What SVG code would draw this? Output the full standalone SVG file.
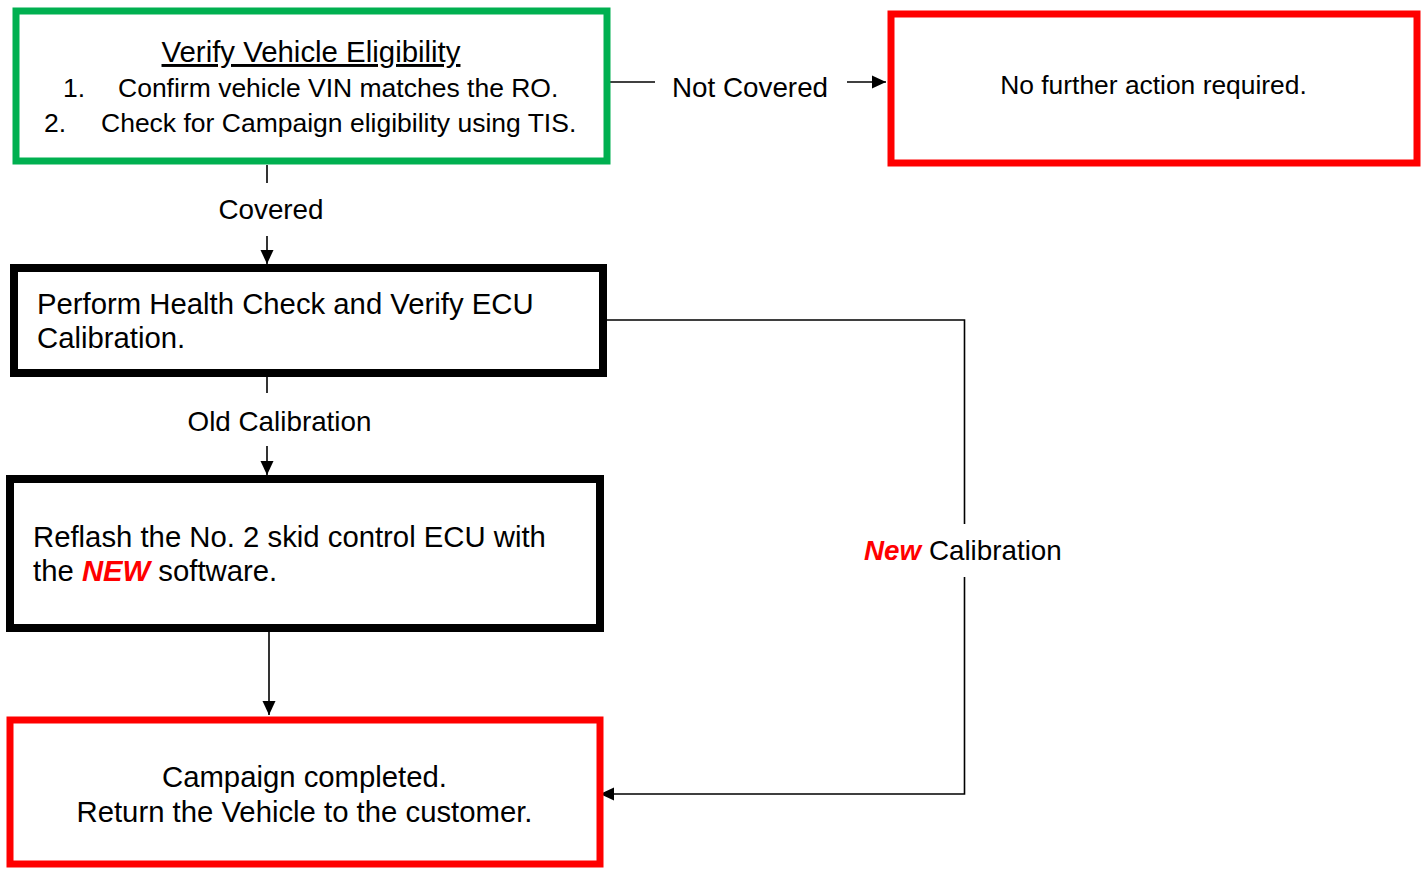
<svg xmlns="http://www.w3.org/2000/svg" width="1425" height="869" viewBox="0 0 1425 869">
<style>
text{font-family:"Liberation Sans",Arial,sans-serif;fill:#000}
.box{fill:#fff}
.g{stroke:#00b050;stroke-width:7}
.r{stroke:#ff0000;stroke-width:7}
.k{stroke:#000;stroke-width:8}
.c{fill:none;stroke:#000;stroke-width:1.6}
.em{font-weight:bold;font-style:italic;fill:#ff0000}
.lbl{font-size:27.8px}
</style>
<defs>
<marker id="ah" markerUnits="userSpaceOnUse" markerWidth="16" markerHeight="16" viewBox="0 0 16 16" refX="14" refY="8" orient="auto">
<path d="M0,1.5 L14,8 L0,14.5 Z" fill="#000"/>
</marker>
</defs>
<rect width="1425" height="869" fill="#fff"/>
<g id="connectors">
<line class="c" x1="610" y1="82" x2="655" y2="82"/>
<line class="c" x1="847" y1="82" x2="886" y2="82" marker-end="url(#ah)"/>
<text class="lbl" x="672" y="97">Not Covered</text>
<line class="c" x1="267" y1="165" x2="267" y2="183"/>
<line class="c" x1="267" y1="236" x2="267" y2="264" marker-end="url(#ah)"/>
<text class="lbl" x="271" y="219" text-anchor="middle">Covered</text>
<line class="c" x1="267" y1="377" x2="267" y2="393"/>
<line class="c" x1="267" y1="446" x2="267" y2="475" marker-end="url(#ah)"/>
<text class="lbl" x="279.5" y="431" text-anchor="middle">Old Calibration</text>
<line class="c" x1="269" y1="632" x2="269" y2="715" marker-end="url(#ah)"/>
<polyline class="c" points="607,320 964.5,320 964.5,524"/>
<polyline class="c" points="964.5,577 964.5,794 600,794" marker-end="url(#ah)"/>
<text class="lbl" x="864" y="560"><tspan class="em">New</tspan> Calibration</text>
</g>
<g id="verify">
<rect class="box g" x="16" y="11" width="591" height="150"/>
<text x="311" y="62" text-anchor="middle" font-size="29.4" text-decoration="underline">Verify Vehicle Eligibility</text>
<text x="63" y="97" font-size="26.5">1.</text>
<text x="118" y="97" font-size="26.5">Confirm vehicle VIN matches the RO.</text>
<text x="44" y="132" font-size="26.5">2.</text>
<text x="101" y="132" font-size="26.5">Check for Campaign eligibility using TIS.</text>
</g>
<g id="no-action">
<rect class="box r" x="891" y="14" width="526" height="149"/>
<text x="1153.5" y="94" text-anchor="middle" font-size="26.4">No further action required.</text>
</g>
<g id="health-check">
<rect class="box k" x="14" y="268" width="589" height="105"/>
<text x="37" y="313.5" font-size="29.3">Perform Health Check and Verify ECU</text>
<text x="37" y="347.5" font-size="29.3">Calibration.</text>
</g>
<g id="reflash">
<rect class="box k" x="10" y="479" width="590" height="149"/>
<text x="33" y="547" font-size="29.3">Reflash the No. 2 skid control ECU with</text>
<text x="33" y="580.5" font-size="29.3">the <tspan class="em">NEW</tspan> software.</text>
</g>
<g id="completed">
<rect class="box r" x="10" y="720" width="590" height="144"/>
<text x="304.5" y="787" text-anchor="middle" font-size="29.3">Campaign completed.</text>
<text x="304.5" y="822" text-anchor="middle" font-size="29.3">Return the Vehicle to the customer.</text>
</g>
</svg>
